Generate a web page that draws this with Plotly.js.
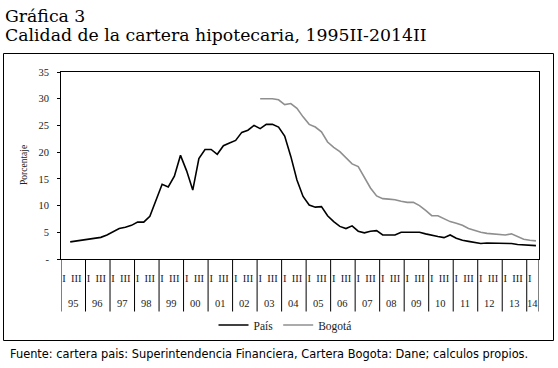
<!DOCTYPE html>
<html>
<head>
<meta charset="utf-8">
<script src="https://cdn.plot.ly/plotly-3.0.1.min.js"></script>
<style>html,body{margin:0;padding:0;background:#fff;}#chart{width:558px;height:368px;}</style>
</head>
<body>
<div id="chart"></div>
<script>
// ---- data ----
const years = ['1995','1996','1997','1998','1999','2000','2001','2002','2003','2004','2005','2006','2007','2008','2009','2010','2011','2012','2013','2014'];
const yearLabels = ['95','96','97','98','99','00','01','02','03','04','05','06','07','08','09','10','11','12','13','14'];
const quarters = ['I','II','III','IV'];
const quarterTickText = ['I','','III',''];
// quarters from 1995-I to 2014-II (78)
const pais = [null,
  3.2,3.35,3.5,
  3.7,3.9,4.05,4.5,
  5.1,5.7,5.95,6.3,
  6.9,6.9,8.0,10.9,
  14.0,13.5,15.5,19.4,
  16.5,12.9,18.8,20.5,
  20.5,19.6,21.2,21.7,
  22.2,23.7,24.1,25.0,
  24.4,25.2,25.2,24.7,
  23.0,19.2,14.8,11.7,
  10.1,9.7,9.8,8.1,
  7.0,6.1,5.7,6.2,
  5.2,4.9,5.2,5.3,
  4.5,4.5,4.5,5.0,
  5.0,5.0,5.0,4.7,
  4.4,4.2,4.0,4.5,
  3.9,3.5,3.3,3.1,
  2.9,3.0,3.0,2.9,
  2.9,2.9,2.7,2.6,
  2.5,2.5];
const bogota = [null,null,null,null,
  null,null,null,null,
  null,null,null,null,
  null,null,null,null,
  null,null,null,null,
  null,null,null,null,
  null,null,null,null,
  null,null,null,null,
  30.0,30.0,30.0,29.8,
  28.9,29.1,28.2,26.6,
  25.2,24.7,23.8,21.9,
  20.9,20.1,19.0,17.8,
  17.3,15.4,13.3,11.8,
  11.3,11.2,11.1,10.8,
  10.6,10.6,10.0,9.1,
  8.1,8.1,7.6,7.0,
  6.7,6.3,5.7,5.3,
  5.0,4.8,4.7,4.7,
  4.5,4.7,4.2,3.7,
  3.5,3.4];
const yTickVals = [0,5,10,15,20,25,30,35];
const yTickText = ['-','5','10','15','20','25','30','35'];
const seriesNames = ['País','Bogotá'];
const titleLine1 = 'Gráfica 3';
const titleLine2 = 'Calidad de la cartera hipotecaria, 1995II-2014II';
const yTitle = 'Porcentaje';
const source = 'Fuente: cartera pais: Superintendencia Financiera, Cartera Bogota: Dane; calculos propios.';

// ---- build categories ----
const categories = [];
const qTickVals = [], qTickText = [];
years.forEach((y, yi) => {
  quarters.forEach((q, qi) => {
    if (categories.length >= pais.length) return;
    const c = y + '-' + q;
    categories.push(c);
    if (quarterTickText[qi]) { qTickVals.push(c); qTickText.push(quarterTickText[qi]); }
  });
});

// ---- layout geometry ----
const W = 558, H = 368;
const M = {l: 61, r: 19, t: 72, b: 109};
const PW = W - M.l - M.r, PH = H - M.t - M.b;
const px = v => (v - M.l) / PW;          // pixel -> paper x
const py = v => (H - M.b - v) / PH;       // pixel -> paper y

const serif = 'Liberation Serif, Times New Roman, serif';
const titleSerif = 'DejaVu Serif, serif';

const traces = [
  {x: categories, y: pais, name: seriesNames[0], type: 'scatter', mode: 'lines',
   line: {color: '#000000', width: 1.6}, connectgaps: false},
  {x: categories, y: bogota, name: seriesNames[1], type: 'scatter', mode: 'lines',
   line: {color: '#8f8f8f', width: 1.6}, connectgaps: false}
];

const shapes = [];
// outer frame
shapes.push({type: 'rect', xref: 'paper', yref: 'paper', x0: px(3.5), x1: px(553.5), y0: py(340.5), y1: py(53.5),
  line: {color: '#000', width: 1}, fillcolor: 'rgba(0,0,0,0)'});
// year dividers below axis
const nQ = categories.length;
for (let k = 0; k <= years.length; k++) {
  let xv = k * 4 - 0.5;
  if (xv > nQ - 0.5) xv = nQ - 0.5;
  shapes.push({type: 'line', xref: 'x', yref: 'paper', x0: xv, x1: xv, y0: 0, y1: py(311.5),
    line: {color: '#000', width: 1}});
  if (xv >= nQ - 0.5) break;
}

const annotations = [];
years.forEach((y, yi) => {
  const first = yi * 4;
  if (first >= nQ) return;
  const last = Math.min(first + 3, nQ - 1);
  annotations.push({xref: 'x', yref: 'paper', x: (first + last) / 2, y: py(303), text: yearLabels[yi],
    showarrow: false, xanchor: 'center', yanchor: 'middle', font: {family: serif, size: 10.5, color: '#222'}});
});
annotations.push({xref: 'paper', yref: 'paper', x: px(3), y: py(16), text: titleLine1, showarrow: false,
  xanchor: 'left', yanchor: 'middle', font: {family: titleSerif, size: 17.3, color: '#000'}});
annotations.push({xref: 'paper', yref: 'paper', x: px(3), y: py(34.5), text: titleLine2, showarrow: false,
  xanchor: 'left', yanchor: 'middle', font: {family: titleSerif, size: 17.3, color: '#000'}});
annotations.push({xref: 'paper', yref: 'paper', x: px(24), y: py(165), text: yTitle, textangle: -90, showarrow: false,
  xanchor: 'center', yanchor: 'middle', font: {family: serif, size: 9.5, color: '#222'}});
annotations.push({xref: 'paper', yref: 'paper', x: px(8), y: py(354), text: source, showarrow: false,
  xanchor: 'left', yanchor: 'middle', font: {family: 'DejaVu Sans, Verdana, sans-serif', size: 11.4, color: '#000'}});

const layout = {
  width: W, height: H,
  margin: M,
  paper_bgcolor: '#fff', plot_bgcolor: '#fff',
  showlegend: true,
  legend: {orientation: 'h', x: px(285), y: py(325), xanchor: 'center', yanchor: 'middle',
    font: {family: serif, size: 11.5, color: '#222'}, bgcolor: 'rgba(0,0,0,0)', itemwidth: 30},
  xaxis: {type: 'category', range: [-0.5, nQ - 0.5], categoryorder: 'array', categoryarray: categories,
    tickmode: 'array', tickvals: qTickVals, ticktext: qTickText, ticks: 'outside', ticklen: 9,
    tickcolor: 'rgba(0,0,0,0)', tickangle: 0,
    showgrid: false, zeroline: false, showline: true, mirror: true, linecolor: '#000', linewidth: 1,
    tickfont: {family: serif, size: 10.5, color: '#222'}},
  yaxis: {range: [0, 35], tickmode: 'array', tickvals: yTickVals, ticktext: yTickText,
    ticks: 'outside', ticklen: 3, tickcolor: '#000', showgrid: false, zeroline: false,
    showline: true, mirror: true, linecolor: '#000', linewidth: 1, ticklabelstandoff: 6,
    tickfont: {family: serif, size: 10.5, color: '#222'}},
  shapes: shapes,
  annotations: annotations
};

Plotly.newPlot('chart', traces, layout, {staticPlot: true, displayModeBar: false});
</script>
</body>
</html>
